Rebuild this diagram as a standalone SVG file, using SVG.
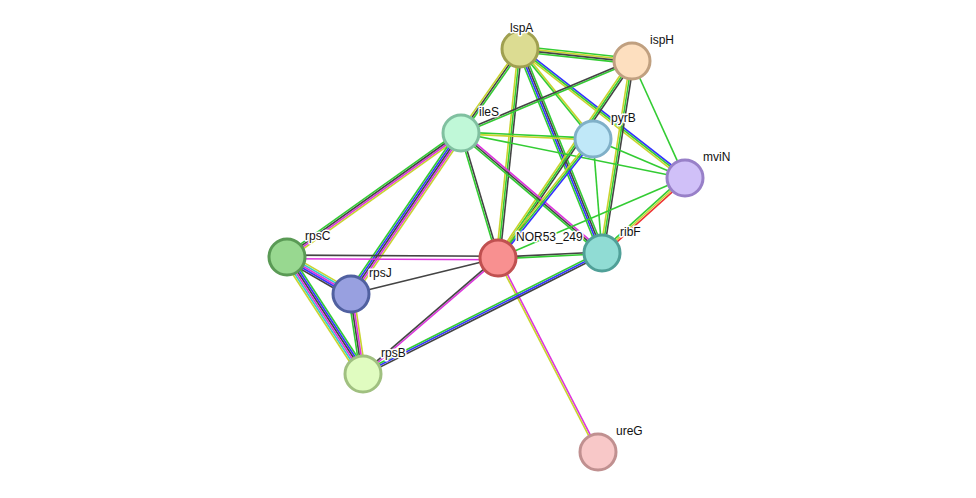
<svg xmlns="http://www.w3.org/2000/svg" width="976" height="498" viewBox="0 0 976 498">
<style>
line{stroke-width:1.6}
.g{stroke:#33cc33}.y{stroke:#c8d42f}.k{stroke:#444}.b{stroke:#3333ff}.m{stroke:#dd33dd}.c{stroke:#33cccc}.r{stroke:#ee3333}
circle{stroke-width:3}
text{font-family:"Liberation Sans",Arial,sans-serif;font-size:12px;fill:#111;stroke:#fff;stroke-width:3px;paint-order:stroke;stroke-linejoin:round}
</style>
<rect width="976" height="498" fill="#fff"/>
<g id="edges">
<g transform="translate(520,49) rotate(6.1)"><line class="g" x1="0" y1="-2.7" x2="112.6" y2="-2.7"/><line class="y" x1="0" y1="-0.9" x2="112.6" y2="-0.9"/><line class="k" x1="0" y1="0.9" x2="112.6" y2="0.9"/><line class="g" x1="0" y1="2.7" x2="112.6" y2="2.7"/></g>
<g transform="translate(520,49) rotate(125.1)"><line class="g" x1="0" y1="-1.8" x2="102.6" y2="-1.8"/><line class="k" x1="0" y1="0" x2="102.6" y2="0"/><line class="y" x1="0" y1="1.8" x2="102.6" y2="1.8"/></g>
<g transform="translate(520,49) rotate(96)"><line class="k" x1="0" y1="-1.8" x2="210.2" y2="-1.8"/><line class="g" x1="0" y1="0" x2="210.2" y2="0"/><line class="y" x1="0" y1="1.8" x2="210.2" y2="1.8"/></g>
<g transform="translate(520,49) rotate(68.1)"><line class="g" x1="0" y1="-2.7" x2="219.9" y2="-2.7"/><line class="k" x1="0" y1="-0.9" x2="219.9" y2="-0.9"/><line class="b" x1="0" y1="0.9" x2="219.9" y2="0.9"/><line class="g" x1="0" y1="2.7" x2="219.9" y2="2.7"/></g>
<g transform="translate(520,49) rotate(50.9)"><line class="y" x1="0" y1="-0.9" x2="115.9" y2="-0.9"/><line class="g" x1="0" y1="0.9" x2="115.9" y2="0.9"/></g>
<g transform="translate(520,49) rotate(38)"><line class="b" x1="0" y1="-1.8" x2="209.4" y2="-1.8"/><line class="g" x1="0" y1="0" x2="209.4" y2="0"/><line class="y" x1="0" y1="1.8" x2="209.4" y2="1.8"/></g>
<g transform="translate(632,61) rotate(157.2)"><line class="g" x1="0" y1="-0.9" x2="185.5" y2="-0.9"/><line class="k" x1="0" y1="0.9" x2="185.5" y2="0.9"/></g>
<g transform="translate(632,61) rotate(124.2)"><line class="k" x1="0" y1="-1.8" x2="238.3" y2="-1.8"/><line class="g" x1="0" y1="0" x2="238.3" y2="0"/><line class="y" x1="0" y1="1.8" x2="238.3" y2="1.8"/></g>
<g transform="translate(632,61) rotate(98.9)"><line class="k" x1="0" y1="-1.8" x2="194.3" y2="-1.8"/><line class="g" x1="0" y1="0" x2="194.3" y2="0"/><line class="y" x1="0" y1="1.8" x2="194.3" y2="1.8"/></g>
<g transform="translate(632,61) rotate(65.6)"><line class="g" x1="0" y1="0" x2="128.4" y2="0"/></g>
<g transform="translate(461,133) rotate(2.6)"><line class="g" x1="0" y1="-0.9" x2="132.1" y2="-0.9"/><line class="y" x1="0" y1="0.9" x2="132.1" y2="0.9"/></g>
<g transform="translate(461,133) rotate(11.4)"><line class="g" x1="0" y1="0" x2="228.5" y2="0"/></g>
<g transform="translate(461,133) rotate(73.5)"><line class="k" x1="0" y1="-0.9" x2="130.4" y2="-0.9"/><line class="g" x1="0" y1="0.9" x2="130.4" y2="0.9"/></g>
<g transform="translate(461,133) rotate(40.4)"><line class="m" x1="0" y1="-1.8" x2="185.2" y2="-1.8"/><line class="k" x1="0" y1="0" x2="185.2" y2="0"/><line class="g" x1="0" y1="1.8" x2="185.2" y2="1.8"/></g>
<g transform="translate(461,133) rotate(144.5)"><line class="y" x1="0" y1="-2.7" x2="213.7" y2="-2.7"/><line class="m" x1="0" y1="-0.9" x2="213.7" y2="-0.9"/><line class="k" x1="0" y1="0.9" x2="213.7" y2="0.9"/><line class="g" x1="0" y1="2.7" x2="213.7" y2="2.7"/></g>
<g transform="translate(461,133) rotate(124.3)"><line class="y" x1="0" y1="-3.6" x2="195" y2="-3.6"/><line class="m" x1="0" y1="-1.8" x2="195" y2="-1.8"/><line class="k" x1="0" y1="0" x2="195" y2="0"/><line class="b" x1="0" y1="1.8" x2="195" y2="1.8"/><line class="g" x1="0" y1="3.6" x2="195" y2="3.6"/></g>
<g transform="translate(593,139) rotate(128.6)"><line class="b" x1="0" y1="-1.8" x2="152.3" y2="-1.8"/><line class="g" x1="0" y1="0" x2="152.3" y2="0"/><line class="y" x1="0" y1="1.8" x2="152.3" y2="1.8"/></g>
<g transform="translate(593,139) rotate(85.5)"><line class="g" x1="0" y1="0" x2="114.4" y2="0"/></g>
<g transform="translate(593,139) rotate(23)"><line class="g" x1="0" y1="0" x2="99.9" y2="0"/></g>
<g transform="translate(685,178) rotate(156.8)"><line class="g" x1="0" y1="0" x2="203.4" y2="0"/></g>
<g transform="translate(685,178) rotate(137.9)"><line class="r" x1="0" y1="-1.8" x2="111.9" y2="-1.8"/><line class="y" x1="0" y1="0" x2="111.9" y2="0"/><line class="g" x1="0" y1="1.8" x2="111.9" y2="1.8"/></g>
<g transform="translate(498,258) rotate(-2.8)"><line class="k" x1="0" y1="-0.9" x2="104.1" y2="-0.9"/><line class="g" x1="0" y1="0.9" x2="104.1" y2="0.9"/></g>
<g transform="translate(498,258) rotate(180.3)"><line class="m" x1="0" y1="-1.8" x2="211" y2="-1.8"/><line class="k" x1="0" y1="1.8" x2="211" y2="1.8"/></g>
<g transform="translate(498,258) rotate(166.2)"><line class="k" x1="0" y1="0" x2="151.3" y2="0"/></g>
<g transform="translate(498,258) rotate(139.3)"><line class="m" x1="0" y1="-0.9" x2="178" y2="-0.9"/><line class="k" x1="0" y1="0.9" x2="178" y2="0.9"/></g>
<g transform="translate(498,258) rotate(62.7)"><line class="m" x1="0" y1="-0.9" x2="218.3" y2="-0.9"/><line class="y" x1="0" y1="0.9" x2="218.3" y2="0.9"/></g>
<g transform="translate(602,253) rotate(153.2)"><line class="k" x1="0" y1="-1.8" x2="267.9" y2="-1.8"/><line class="b" x1="0" y1="0" x2="267.9" y2="0"/><line class="g" x1="0" y1="1.8" x2="267.9" y2="1.8"/></g>
<g transform="translate(287,257) rotate(30)"><line class="y" x1="0" y1="-3.6" x2="73.9" y2="-3.6"/><line class="c" x1="0" y1="-1.8" x2="73.9" y2="-1.8"/><line class="m" x1="0" y1="0" x2="73.9" y2="0"/><line class="b" x1="0" y1="1.8" x2="73.9" y2="1.8"/><line class="k" x1="0" y1="3.6" x2="73.9" y2="3.6"/></g>
<g transform="translate(287,257) rotate(57)"><line class="g" x1="0" y1="-4.5" x2="139.5" y2="-4.5"/><line class="b" x1="0" y1="-2.7" x2="139.5" y2="-2.7"/><line class="k" x1="0" y1="-0.9" x2="139.5" y2="-0.9"/><line class="m" x1="0" y1="0.9" x2="139.5" y2="0.9"/><line class="c" x1="0" y1="2.7" x2="139.5" y2="2.7"/><line class="y" x1="0" y1="4.5" x2="139.5" y2="4.5"/></g>
<g transform="translate(351,294) rotate(81.5)"><line class="y" x1="0" y1="-2.7" x2="80.9" y2="-2.7"/><line class="m" x1="0" y1="-0.9" x2="80.9" y2="-0.9"/><line class="k" x1="0" y1="0.9" x2="80.9" y2="0.9"/><line class="g" x1="0" y1="2.7" x2="80.9" y2="2.7"/></g>
</g>
<g id="lspA"><circle cx="520" cy="49" r="18" fill="#dcdc92" stroke="#a0a050"/><text x="510" y="32">lspA</text></g>
<g id="ispH"><circle cx="632" cy="61" r="18" fill="#fddfbf" stroke="#c0a080"/><text x="650" y="44">ispH</text></g>
<g id="ileS"><circle cx="461" cy="133" r="18" fill="#c0f8d8" stroke="#80c0a0"/><text x="479" y="116">ileS</text></g>
<g id="pyrB"><circle cx="593" cy="139" r="18" fill="#c0e8f8" stroke="#80b0c8"/><text x="611" y="122">pyrB</text></g>
<g id="mviN"><circle cx="685" cy="178" r="18" fill="#d0c0f8" stroke="#9880c8"/><text x="703" y="161">mviN</text></g>
<g id="NOR53_249"><circle cx="498" cy="258" r="18" fill="#f89090" stroke="#c05050"/><text x="516" y="241">NOR53_249</text></g>
<g id="ribF"><circle cx="602" cy="253" r="18" fill="#90dcd4" stroke="#50a098"/><text x="620" y="236">ribF</text></g>
<g id="rpsC"><circle cx="287" cy="257" r="18" fill="#98d890" stroke="#5a9a55"/><text x="305" y="240">rpsC</text></g>
<g id="rpsJ"><circle cx="351" cy="294" r="18" fill="#98a0e0" stroke="#5060a0"/><text x="369" y="277">rpsJ</text></g>
<g id="rpsB"><circle cx="363" cy="374" r="18" fill="#e0fcc0" stroke="#a0c080"/><text x="381" y="357">rpsB</text></g>
<g id="ureG"><circle cx="598" cy="452" r="18" fill="#f8c8c8" stroke="#c09090"/><text x="616" y="435">ureG</text></g>
</svg>
